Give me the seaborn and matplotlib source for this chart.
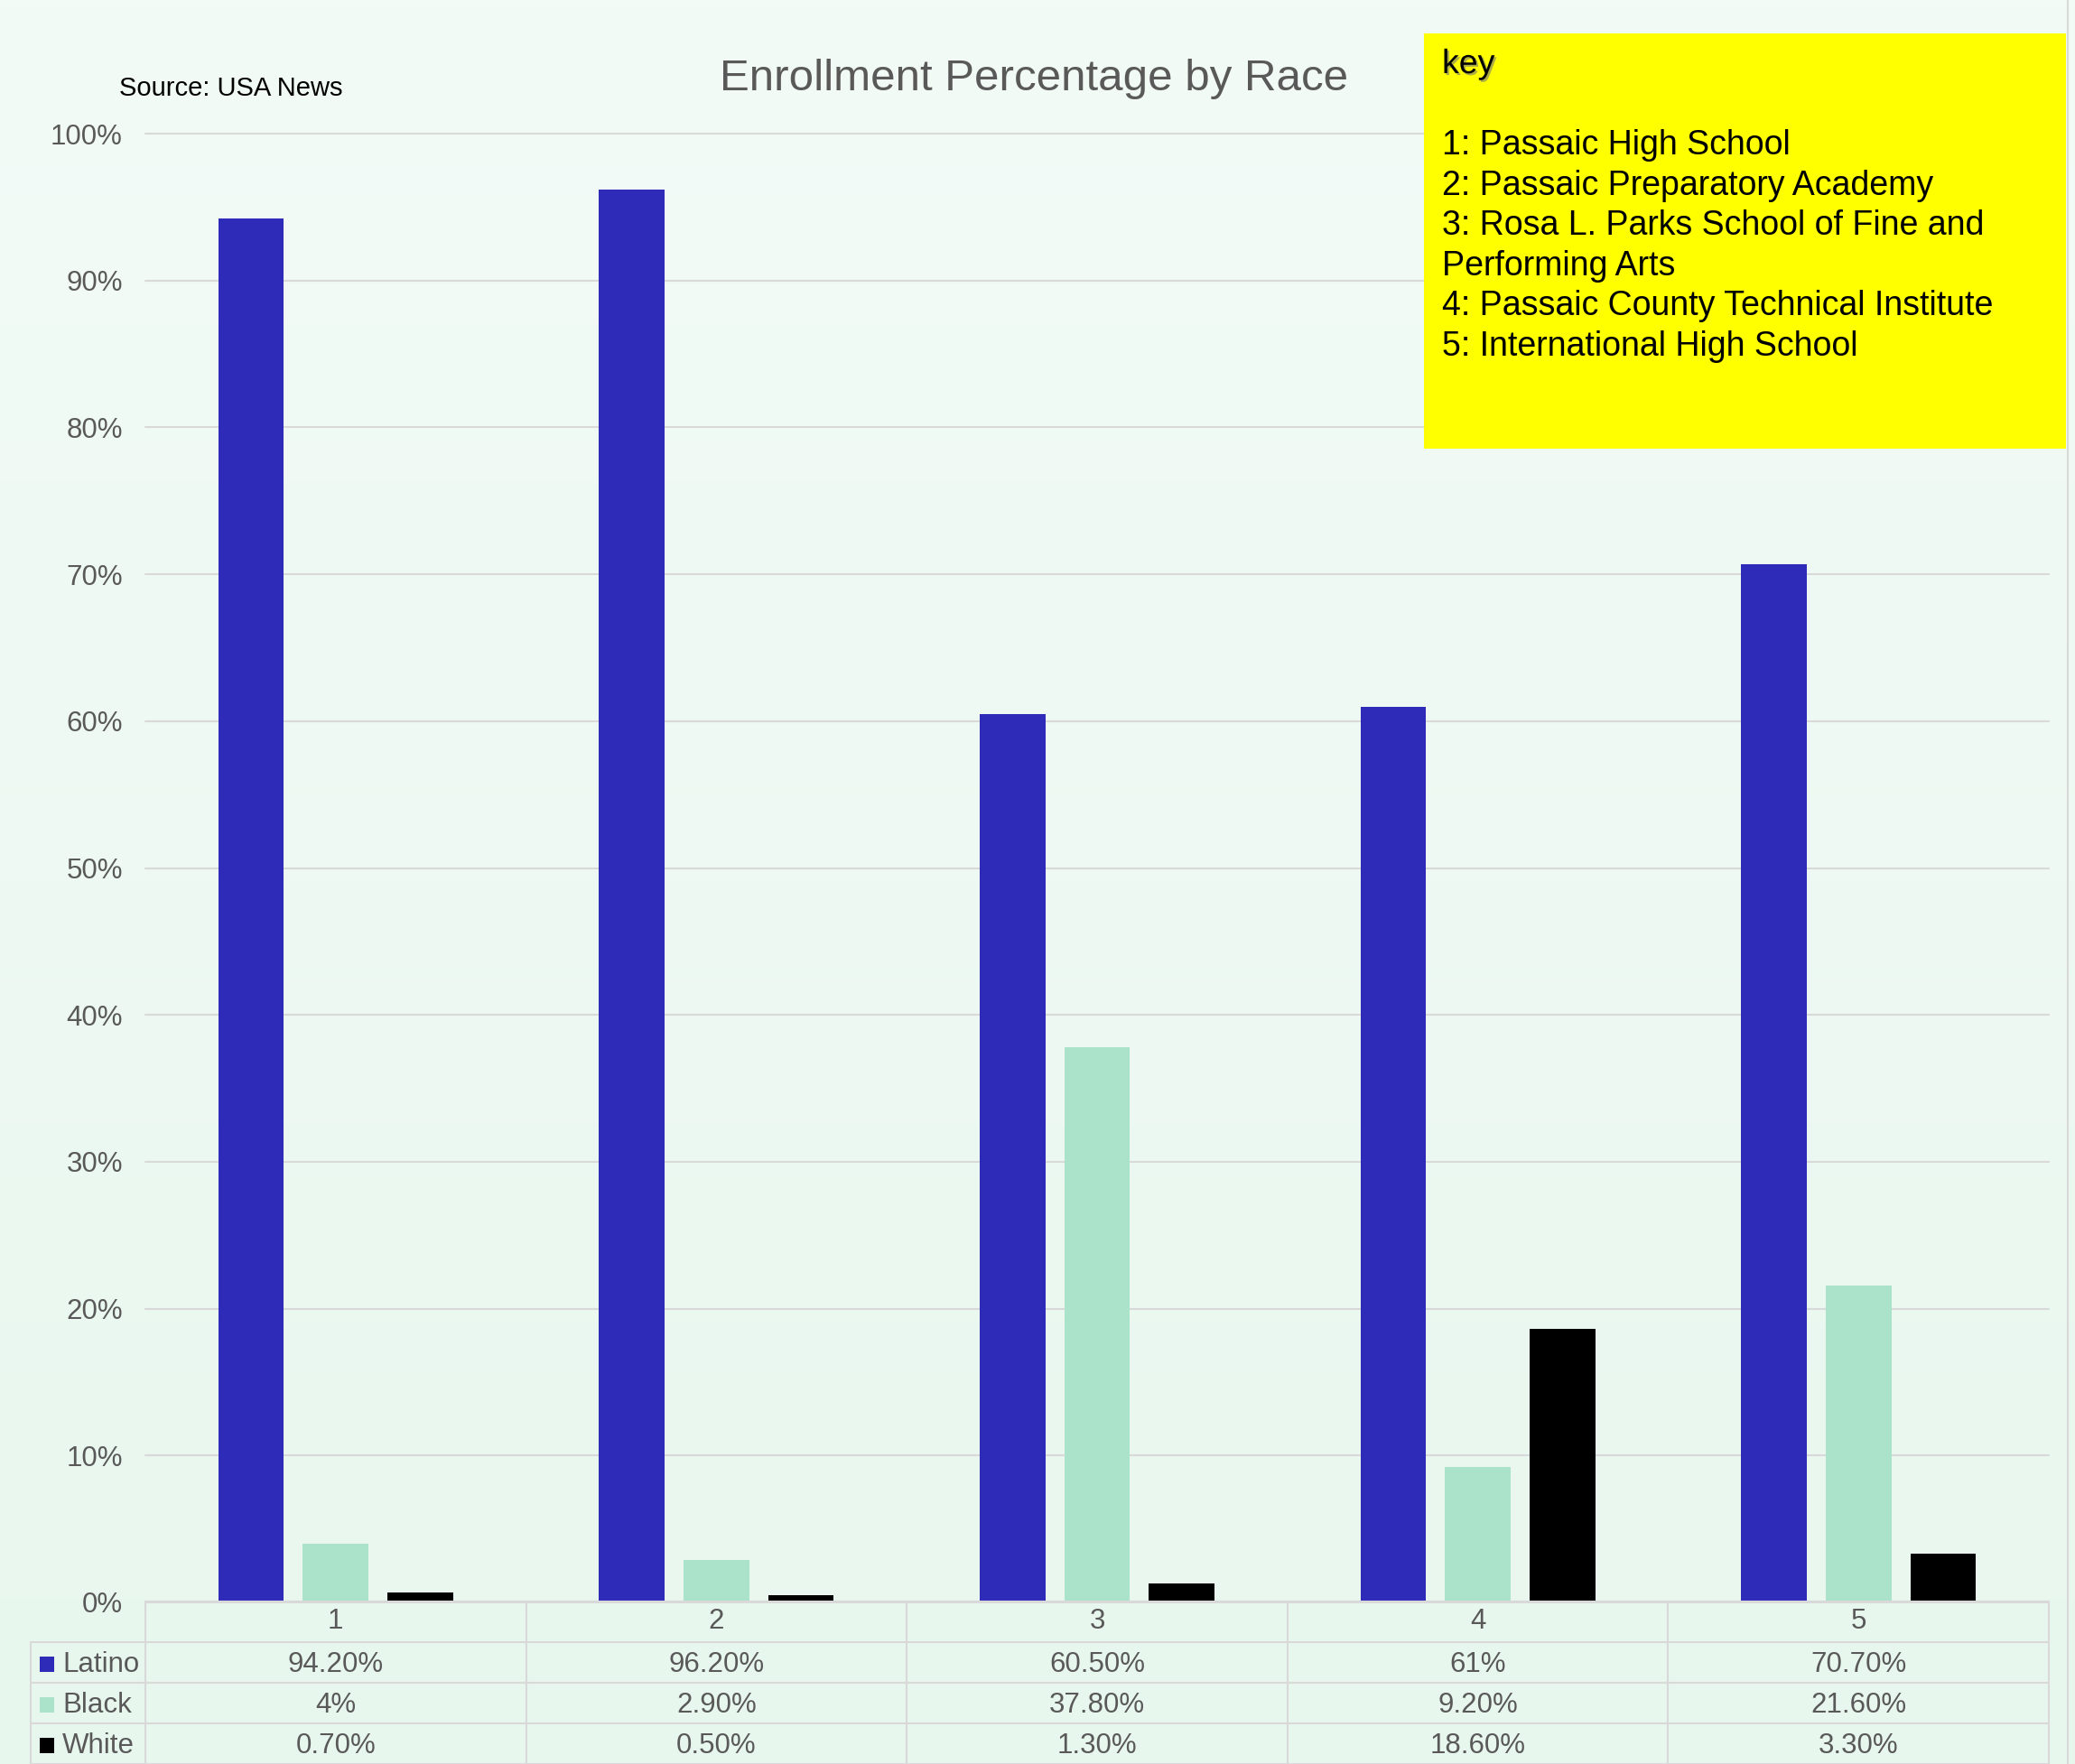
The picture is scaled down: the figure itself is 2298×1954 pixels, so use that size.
import numpy as np
import pandas as pd
import matplotlib
matplotlib.use("Agg")
import matplotlib.pyplot as plt
import seaborn as sns
from matplotlib.patches import Rectangle
from matplotlib.lines import Line2D
from matplotlib.colors import LinearSegmentedColormap
import matplotlib.patheffects as pe

# ---------------- data ----------------
schools = ["1", "2", "3", "4", "5"]
races = ["Latino", "Black", "White"]
latino = [94.2, 96.2, 60.5, 61.0, 70.7]
black = [4.0, 2.9, 37.8, 9.2, 21.6]
white = [0.7, 0.5, 1.3, 18.6, 3.3]
race_colors = ["#2E2BB8", "#ABE3CA", "#000000"]
yticks = [0, 10, 20, 30, 40, 50, 60, 70, 80, 90, 100]
ytick_labels = ["0%", "10%", "20%", "30%", "40%", "50%", "60%", "70%", "80%", "90%", "100%"]
title = "Enrollment Percentage by Race"
source = "Source: USA News"
key_title = "key"
key_lines = [
    "1: Passaic High School",
    "2: Passaic Preparatory Academy",
    "3: Rosa L. Parks School of Fine and",
    "Performing Arts",
    "4: Passaic County Technical Institute",
    "5: International High School",
]


def fmt(v):
    return f"{v:.0f}%" if float(v).is_integer() else f"{v:.2f}%"


# ---------------- figure ----------------
W, H = 2298, 1954
sns.set_theme(style="white")
plt.rcParams["font.family"] = ["Liberation Sans", "DejaVu Sans"]
fig = plt.figure(figsize=(W / 100, H / 100), dpi=100)

# background gradient
bg = fig.add_axes([0, 0, 1, 1], zorder=-10)
grad = np.linspace(0, 1, 256).reshape(-1, 1)
cmap = LinearSegmentedColormap.from_list("bg", ["#F3FBF7", "#E8F7EE"])
bg.imshow(grad, aspect="auto", cmap=cmap, extent=[0, 1, 0, 1])
bg.axis("off")

GRID = "#D9D9D9"
TXT = "#595959"

# main bar axes
left_px, right_px, top_px, base_px = 161, 2269, 148, 1775
ax = fig.add_axes([left_px / W, 1 - base_px / H, (right_px - left_px) / W, (base_px - top_px) / H])
ax.patch.set_alpha(0)

df = pd.DataFrame({
    "School": schools * 3,
    "Race": np.repeat(races, len(schools)),
    "Value": latino + black + white,
})
sns.barplot(data=df, x="School", y="Value", hue="Race", hue_order=races,
            palette=race_colors, saturation=1, width=0.667, gap=0.225, errorbar=None,
            linewidth=0, ax=ax, legend=False)
ax.set_xlim(-0.5, 4.5)
ax.set_ylim(0, 100)
ax.set_yticks(yticks)
ax.set_yticklabels(ytick_labels, fontsize=22.5, color=TXT)
ax.tick_params(axis="y", length=0, pad=18)
ax.set_xticks([])
ax.set_xlabel("")
ax.set_ylabel("")
for s in ax.spines.values():
    s.set_visible(False)
ax.yaxis.grid(True, color=GRID, lw=1.5)
ax.set_axisbelow(True)
for gl in ax.get_ygridlines():
    gl.set_clip_on(False)

# ---------------- data table ----------------
colw = (right_px - left_px) / 5
tab_left_px = 34
x0 = -0.5 - (left_px - tab_left_px) / colw
row_px = 45
tab = fig.add_axes([tab_left_px / W, 0, (right_px - tab_left_px) / W, 4 * row_px / H])
tab.set_xlim(x0, 4.5)
tab.set_ylim(0, 4)
tab.axis("off")
tab.patch.set_alpha(0)

lkw = dict(color=GRID, lw=1.5, clip_on=False)
tab.plot([-0.5, 4.5], [4, 4], **lkw)
for yy in [3, 2, 1, 0]:
    tab.plot([x0, 4.5], [yy, yy], **lkw)
for i in range(6):
    tab.plot([-0.5 + i, -0.5 + i], [0, 4], **lkw)
tab.plot([x0, x0], [0, 3], **lkw)

TFS = 22.5
for i, s in enumerate(schools):
    tab.text(i, 3.5, s, ha="center", va="center", fontsize=TFS, color=TXT)

series = [latino, black, white]
for r, (name, vals, col) in enumerate(zip(races, series, race_colors)):
    yc = 2.45 - r
    sq_w = 16 / colw
    sq_h = 17 / row_px
    tab.add_patch(Rectangle((x0 + 10 / colw, yc - sq_h / 2), sq_w, sq_h,
                            facecolor=col, edgecolor="none", clip_on=False))
    tab.text(x0 + 35 / colw, yc, name, ha="left", va="center", fontsize=TFS, color=TXT)
    for i, v in enumerate(vals):
        tab.text(i, yc, fmt(v), ha="center", va="center", fontsize=TFS, color=TXT)

# ---------------- titles ----------------
fig.text(1145 / W, 1 - 88 / H, title, ha="center", va="center", fontsize=35.5, color=TXT)
fig.text(132 / W, 1 - 98 / H, source, ha="left", va="center", fontsize=21, color="black")

# right edge line
fig.add_artist(Line2D([2290 / W, 2290 / W], [0, 1], color=GRID, lw=1.5, transform=fig.transFigure))

# ---------------- key box ----------------
fig.add_artist(Rectangle((1577 / W, 1 - 497 / H), (2288 - 1577) / W, (497 - 37) / H,
                         facecolor="#FFFF00", edgecolor="none", transform=fig.transFigure, zorder=5))
fig.text(1597 / W, 1 - 71 / H, key_title, ha="left", va="center", fontsize=27, color="black",
         zorder=6, path_effects=[pe.withSimplePatchShadow(offset=(1.5, -1.5), shadow_rgbFace="#777777", alpha=0.6)])
for i, line in enumerate(key_lines):
    fig.text(1597 / W, 1 - (161 + i * 44.6) / H, line, ha="left", va="center",
             fontsize=27, color="black", zorder=6)

fig.savefig("out.png", dpi=100)
